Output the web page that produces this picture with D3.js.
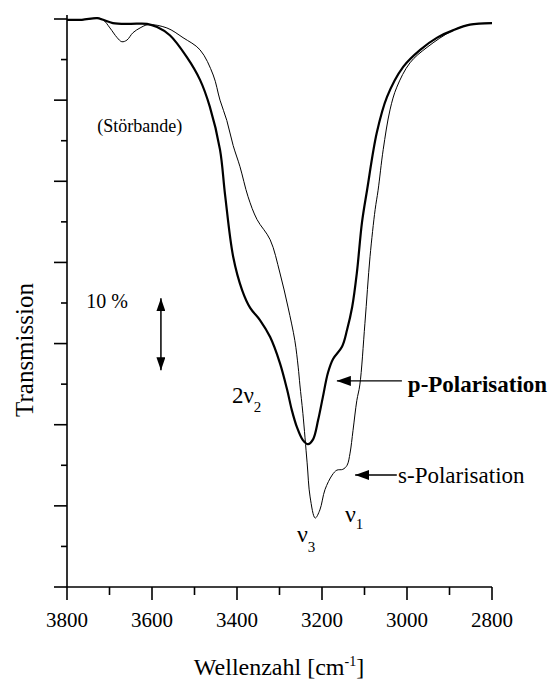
<!DOCTYPE html>
<html>
<head>
<meta charset="utf-8">
<script src="https://cdn.jsdelivr.net/npm/d3@7"></script>
<style>
  body { margin: 0; background: #fff; }
  svg { display: block; }
</style>
</head>
<body>
<svg id="chart" width="551" height="680" font-family="'Liberation Serif', 'Times New Roman', 'DejaVu Serif', serif"></svg>
<script>
// Wavenumbers (cm^-1) and transmission of the p-polarised spectrum
const pWave = [3800, 3765, 3729, 3715, 3692, 3652, 3612, 3588, 3558, 3518, 3487, 3464, 3440, 3428, 3409, 3388,
  3369, 3346, 3322, 3299, 3282, 3271, 3259, 3245, 3233, 3221, 3209, 3198, 3186, 3174, 3153, 3141, 3129,
  3118, 3106, 3094, 3071, 3047, 3009, 2969, 2929, 2892, 2852, 2800];
const pTrans = [99.9, 99.9, 100.1, 99.9, 99.5, 99.4, 99.4, 99.0, 98.0, 95.3, 92.5, 89.2, 83.9, 78.3, 70.7, 66.6,
  64.4, 62.9, 60.8, 57.6, 54.3, 51.8, 49.7, 48.1, 47.6, 48.2, 50.6, 53.4, 56.4, 58.1, 59.6, 61.7, 64.5,
  68.7, 74.9, 78.9, 86.0, 90.4, 94.1, 96.2, 97.7, 98.6, 99.3, 99.5];

// Wavenumbers (cm^-1) and transmission of the s-polarised spectrum
const sWave = [3800, 3765, 3729, 3715, 3699, 3682, 3671, 3659, 3645, 3628, 3609, 3565, 3527, 3487, 3456, 3440,
  3424, 3409, 3393, 3374, 3353, 3322, 3299, 3280, 3264, 3256, 3252, 3245, 3235, 3228, 3216, 3205, 3193,
  3176, 3165, 3151, 3141, 3134, 3127, 3118, 3111, 3099, 3087, 3075, 3068, 3056, 3040, 3024, 2993, 2953,
  2892, 2852, 2800];
const sTrans = [99.9, 99.9, 100.1, 99.9, 98.9, 97.7, 97.2, 97.4, 98.3, 98.9, 99.3, 98.9, 97.7, 96.2, 93.1, 90.0,
  87.5, 84.4, 81.8, 78.1, 75.3, 72.8, 68.7, 64.5, 60.4, 57.1, 54.9, 51.4, 45.3, 41.1, 38.5, 39.5, 42.0,
  43.8, 44.4, 44.5, 45.0, 46.5, 49.3, 53.0, 54.9, 62.5, 70.7, 76.5, 78.9, 83.9, 88.8, 91.6, 94.6, 96.5,
  98.6, 99.3, 99.5];

// Axis ticks
const xTickValues = [3800, 3700, 3600, 3500, 3400, 3300, 3200, 3100, 3000, 2900, 2800];
const xTickLabels = ["3800", "", "3600", "", "3400", "", "3200", "", "3000", "", "2800"];
const yTickValues = [30, 35, 40, 45, 50, 55, 60, 65, 70, 75, 80, 85, 90, 95, 100];

const svg = d3.select("#chart");

const x = d3.scaleLinear().domain([3800, 2800]).range([67, 492]);
const y = d3.scaleLinear().domain([30, 100]).range([587, 19]);

const axisColor = "#000";

// Bottom axis
const xAxis = svg.append("g");
xAxis.append("line")
  .attr("x1", x(3800)).attr("x2", x(2800))
  .attr("y1", y(30)).attr("y2", y(30))
  .attr("stroke", axisColor).attr("stroke-width", 1.6);
xAxis.selectAll("line.tick").data(xTickValues).join("line")
  .attr("class", "tick")
  .attr("x1", d => x(d)).attr("x2", d => x(d))
  .attr("y1", y(30)).attr("y2", (d, i) => y(30) + (xTickLabels[i] ? 13 : 8))
  .attr("stroke", axisColor).attr("stroke-width", 1.6);
xAxis.selectAll("text").data(xTickValues).join("text")
  .attr("x", d => x(d)).attr("y", 627)
  .attr("text-anchor", "middle")
  .attr("font-size", 21)
  .text((d, i) => xTickLabels[i]);

// Left axis
const yAxis = svg.append("g");
yAxis.append("line")
  .attr("x1", x(3800)).attr("x2", x(3800))
  .attr("y1", y(100) - 4).attr("y2", y(30))
  .attr("stroke", axisColor).attr("stroke-width", 1.6);
yAxis.selectAll("line.tick").data(yTickValues).join("line")
  .attr("class", "tick")
  .attr("x1", d => x(3800) - (d % 10 === 0 ? 13 : 6)).attr("x2", x(3800))
  .attr("y1", d => y(d)).attr("y2", d => y(d))
  .attr("stroke", axisColor).attr("stroke-width", 1.6);

// Axis titles
const xTitle = svg.append("text")
  .attr("x", 279).attr("y", 675)
  .attr("text-anchor", "middle")
  .attr("font-size", 24);
xTitle.append("tspan").text("Wellenzahl [cm");
xTitle.append("tspan").attr("font-size", 14).attr("dy", -9).text("-1");
xTitle.append("tspan").attr("dy", 9).text("]");

svg.append("text")
  .attr("transform", "translate(33,350) rotate(-90)")
  .attr("text-anchor", "middle")
  .attr("font-size", 25)
  .text("Transmission");

// Spectra
const line = d3.line()
  .x(d => x(d[0]))
  .y(d => y(d[1]))
  .curve(d3.curveCatmullRom.alpha(0.5));

svg.append("path")
  .datum(sWave.map((w, i) => [w, sTrans[i]]))
  .attr("fill", "none").attr("stroke", "#000").attr("stroke-width", 1)
  .attr("d", line);

svg.append("path")
  .datum(pWave.map((w, i) => [w, pTrans[i]]))
  .attr("fill", "none").attr("stroke", "#000").attr("stroke-width", 2.2)
  .attr("stroke-linejoin", "round")
  .attr("d", line);

// Arrowhead markers
const defs = svg.append("defs");
defs.append("marker")
  .attr("id", "head").attr("viewBox", "0 0 14 10")
  .attr("refX", 14).attr("refY", 5)
  .attr("markerWidth", 14).attr("markerHeight", 10)
  .attr("markerUnits", "userSpaceOnUse")
  .attr("orient", "auto-start-reverse")
  .append("path").attr("d", "M0,0 L14,5 L0,10 Z").attr("fill", "#000");
defs.append("marker")
  .attr("id", "headSmall").attr("viewBox", "0 0 13 9")
  .attr("refX", 13).attr("refY", 4.5)
  .attr("markerWidth", 13).attr("markerHeight", 9)
  .attr("markerUnits", "userSpaceOnUse")
  .attr("orient", "auto-start-reverse")
  .append("path").attr("d", "M0,0 L13,4.5 L0,9 Z").attr("fill", "#000");

// Annotations
svg.append("text")
  .attr("x", x(3729)).attr("y", y(86.1))
  .attr("font-size", 18)
  .text("(Störbande)");

svg.append("text")
  .attr("x", x(3755)).attr("y", y(64.4))
  .attr("font-size", 20)
  .text("10 %");

svg.append("line")
  .attr("x1", x(3579)).attr("x2", x(3579))
  .attr("y1", y(65.6)).attr("y2", y(56.7))
  .attr("stroke", "#000").attr("stroke-width", 1.5)
  .attr("marker-start", "url(#headSmall)")
  .attr("marker-end", "url(#headSmall)");

const nu2 = svg.append("text")
  .attr("x", x(3412)).attr("y", y(52.7))
  .attr("font-size", 23);
nu2.append("tspan").text("2ν");
nu2.append("tspan").attr("font-size", 15).attr("dy", 9).text("2");

const nu3 = svg.append("text")
  .attr("x", x(3259)).attr("y", y(35.5))
  .attr("font-size", 24);
nu3.append("tspan").text("ν");
nu3.append("tspan").attr("font-size", 15).attr("dy", 10).text("3");

const nu1 = svg.append("text")
  .attr("x", x(3146)).attr("y", y(38.0))
  .attr("font-size", 24);
nu1.append("tspan").text("ν");
nu1.append("tspan").attr("font-size", 15).attr("dy", 7).text("1");

svg.append("line")
  .attr("x1", x(3012)).attr("x2", x(3165))
  .attr("y1", y(55.4)).attr("y2", y(55.4))
  .attr("stroke", "#000").attr("stroke-width", 1.3)
  .attr("marker-end", "url(#head)");
svg.append("text")
  .attr("x", x(2998)).attr("y", y(54.0))
  .attr("font-size", 23).attr("font-weight", "bold")
  .text("p-Polarisation");

svg.append("line")
  .attr("x1", x(3024)).attr("x2", x(3122))
  .attr("y1", y(43.8)).attr("y2", y(43.8))
  .attr("stroke", "#000").attr("stroke-width", 1.3)
  .attr("marker-end", "url(#head)");
svg.append("text")
  .attr("x", x(3021)).attr("y", y(42.8))
  .attr("font-size", 23)
  .text("s-Polarisation");
</script>
</body>
</html>
